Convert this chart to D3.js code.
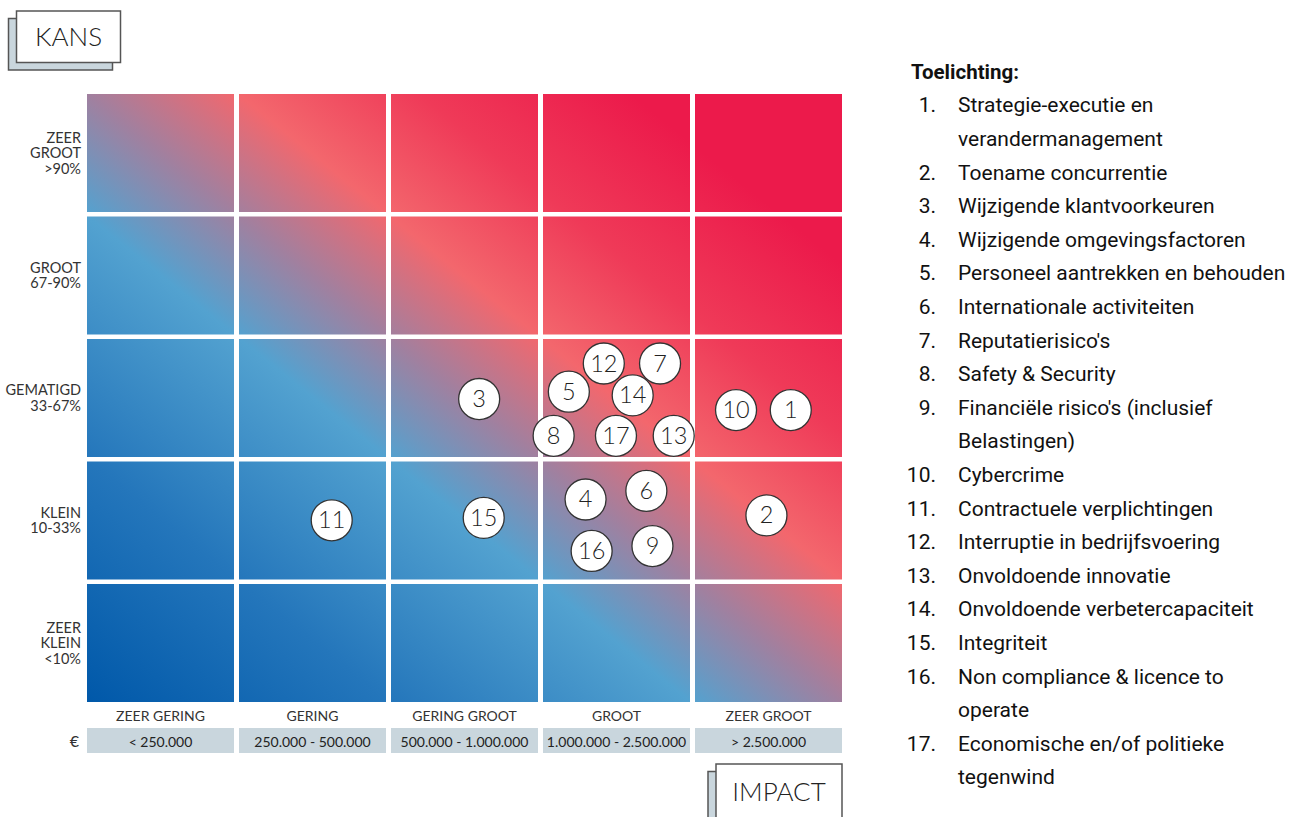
<!DOCTYPE html>
<html>
<head>
<meta charset="utf-8">
<script src="https://cdn.jsdelivr.net/npm/d3@7"></script>
<style>
  html, body { margin: 0; padding: 0; background: #fff; }
  svg { display: block; }
</style>
</head>
<body>
<svg id="chart" width="1296" height="817"></svg>
<script>
// ---------------- DATA ----------------
const impactCategories = ["ZEER GERING", "GERING", "GERING GROOT", "GROOT", "ZEER GROOT"];
const impactRanges = ["< 250.000", "250.000 - 500.000", "500.000 - 1.000.000", "1.000.000 - 2.500.000", "> 2.500.000"];
// bottom (index 0) to top (index 4)
const probabilityCategories = [
  ["ZEER", "KLEIN", "<10%"],
  ["KLEIN", "10-33%"],
  ["GEMATIGD", "33-67%"],
  ["GROOT", "67-90%"],
  ["ZEER", "GROOT", ">90%"]
];
const riskIds =         [1,    2,    3,    4,    5,    6,    7,    8,    9,    10,   11,   12,   13,   14,   15,   16,   17];
// position on impact axis (0..5, column units) and probability axis (0..5, row units)
const riskImpact =      [4.63, 4.47, 2.58, 3.28, 3.17, 3.68, 3.77, 3.07, 3.72, 4.27, 1.61, 3.40, 3.86, 3.59, 2.61, 3.32, 3.48];
const riskProbability = [2.42, 1.56, 2.51, 1.69, 2.57, 1.76, 2.80, 2.21, 1.31, 2.42, 1.52, 2.80, 2.21, 2.54, 1.54, 1.27, 2.21];
const riskNames = [
  ["Strategie-executie en", "verandermanagement"],
  ["Toename concurrentie"],
  ["Wijzigende klantvoorkeuren"],
  ["Wijzigende omgevingsfactoren"],
  ["Personeel aantrekken en behouden"],
  ["Internationale activiteiten"],
  ["Reputatierisico's"],
  ["Safety & Security"],
  ["Financiële risico's (inclusief", "Belastingen)"],
  ["Cybercrime"],
  ["Contractuele verplichtingen"],
  ["Interruptie in bedrijfsvoering"],
  ["Onvoldoende innovatie"],
  ["Onvoldoende verbetercapaciteit"],
  ["Integriteit"],
  ["Non compliance & licence to", "operate"],
  ["Economische en/of politieke", "tegenwind"]
];
const legendTitle = "Toelichting:";
const yAxisTitle = "KANS";
const xAxisTitle = "IMPACT";
const currencySymbol = "€";

// ---------------- LAYOUT ----------------
const svg = d3.select("#chart");
const gridLeft = 87, pitchX = 152, cellW = 147;
const gridTop = 94, pitchY = 122.5, cellH = 118;
const nCols = impactCategories.length, nRows = probabilityCategories.length;

const x = d3.scaleLinear().domain([0, nCols]).range([gridLeft, gridLeft + nCols * pitchX]);
const y = d3.scaleLinear().domain([0, nRows]).range([gridTop + nRows * pitchY, gridTop]);

const axisFont = "Lato, 'Open Sans', sans-serif";
const legendFont = "Roboto, 'Noto Sans', sans-serif";

// ---------------- GRADIENT ----------------
const defs = svg.append("defs");
const grad = defs.append("linearGradient")
  .attr("id", "heat")
  .attr("gradientUnits", "objectBoundingBox")
  .attr("x1", 0).attr("y1", 1).attr("x2", 1).attr("y2", 0);
const stops = [
  [0.00, "#0058a9"],
  [0.20, "#2476bb"],
  [0.40, "#53a2d0"],
  [0.50, "#a1809f"],
  [0.60, "#f3676d"],
  [0.72, "#ef3a58"],
  [0.86, "#ec1a4b"],
  [1.00, "#ec1a4b"]
];
grad.selectAll("stop").data(stops).join("stop")
  .attr("offset", d => d[0])
  .attr("stop-color", d => d[1]);

const cells = [];
for (let r = 0; r < nRows; r++) for (let c = 0; c < nCols; c++) cells.push({ r, c });

const clip = defs.append("clipPath").attr("id", "cellsClip");
clip.selectAll("rect").data(cells).join("rect")
  .attr("x", d => x(d.c))
  .attr("y", d => y(d.r + 1))
  .attr("width", cellW)
  .attr("height", cellH);

const gridRight = x(nCols - 1) + cellW;
const gridBottom = y(0) - (pitchY - cellH);
svg.append("rect")
  .attr("x", gridLeft).attr("y", gridTop)
  .attr("width", gridRight - gridLeft)
  .attr("height", gridBottom - gridTop)
  .attr("fill", "url(#heat)")
  .attr("clip-path", "url(#cellsClip)");

// ---------------- ROW LABELS ----------------
const rowLabels = svg.append("g")
  .attr("font-family", axisFont)
  .attr("font-size", 14.5)
  .attr("fill", "#333")
  .attr("text-anchor", "end");
probabilityCategories.forEach((lines, r) => {
  const cy = y(r + 1) + cellH / 2;
  const lh = 15.5;
  const t = rowLabels.append("text").attr("x", 81);
  lines.forEach((ln, i) => {
    t.append("tspan")
      .attr("x", 81)
      .attr("y", cy + (i - (lines.length - 1) / 2) * lh + 5)
      .text(ln);
  });
});

// ---------------- COLUMN LABELS ----------------
const colG = svg.append("g").attr("font-family", axisFont).attr("fill", "#333");
colG.selectAll("text.cat").data(impactCategories).join("text")
  .attr("class", "cat")
  .attr("x", (d, i) => x(i) + cellW / 2)
  .attr("y", 721)
  .attr("text-anchor", "middle")
  .attr("font-size", 14)
  .text(d => d);

colG.selectAll("rect.range").data(impactRanges).join("rect")
  .attr("class", "range")
  .attr("x", (d, i) => x(i))
  .attr("y", 728)
  .attr("width", cellW)
  .attr("height", 25)
  .attr("fill", "#c9d6dd");

colG.selectAll("text.range").data(impactRanges).join("text")
  .attr("class", "range")
  .attr("x", (d, i) => x(i) + cellW / 2)
  .attr("y", 746.5)
  .attr("text-anchor", "middle")
  .attr("font-size", 14)
  .attr("fill", "#222")
  .text(d => d);

colG.append("text")
  .attr("x", 79).attr("y", 747)
  .attr("text-anchor", "end")
  .attr("font-size", 16)
  .attr("fill", "#333")
  .text(currencySymbol);

// ---------------- TITLE BOXES ----------------
function titleBox(bx, by, w, h, label, clipBottom) {
  const g = svg.append("g");
  g.append("rect")
    .attr("x", bx - 8).attr("y", by + 7.5).attr("width", w).attr("height", h)
    .attr("fill", "#c9d6dd").attr("stroke", "#555").attr("stroke-width", 1.5);
  g.append("rect")
    .attr("x", bx).attr("y", by).attr("width", w).attr("height", h)
    .attr("fill", "#fff").attr("stroke", "#555").attr("stroke-width", 1.5);
  g.append("text")
    .attr("x", bx + w / 2).attr("y", by + (clipBottom ? 37 : h / 2 + 9.5))
    .attr("text-anchor", "middle")
    .attr("font-family", axisFont)
    .attr("font-weight", 300)
    .attr("font-size", 26)
    .attr("fill", "#222")
    .text(label);
}
titleBox(16.5, 11, 104, 51.5, yAxisTitle, false);
titleBox(716, 764, 126, 60, xAxisTitle, true);

// ---------------- RISK MARKERS ----------------
const risks = riskIds.map((id, i) => ({ id, ix: riskImpact[i], py: riskProbability[i] }));
const mk = svg.append("g").selectAll("g").data(risks).join("g")
  .attr("transform", d => `translate(${x(d.ix)},${y(d.py)})`);
mk.append("circle")
  .attr("r", 20.5)
  .attr("fill", "#fff")
  .attr("stroke", "#333")
  .attr("stroke-width", 1.3);
mk.append("text")
  .attr("text-anchor", "middle")
  .attr("y", 8)
  .attr("font-family", axisFont)
  .attr("font-weight", 300)
  .attr("font-size", 23.5)
  .attr("fill", "#222")
  .text(d => d.id);

// ---------------- LEGEND ----------------
const lg = svg.append("g").attr("font-family", legendFont).attr("fill", "#111");
lg.append("text")
  .attr("x", 911).attr("y", 78.5)
  .attr("font-weight", 700)
  .attr("font-size", 20.5)
  .text(legendTitle);

let lineIdx = 0;
const lineStart = 112.3, lineStep = 33.6;
riskNames.forEach((lines, i) => {
  lg.append("text")
    .attr("x", 936)
    .attr("y", lineStart + lineIdx * lineStep)
    .attr("text-anchor", "end")
    .attr("font-size", 21)
    .text(riskIds[i] + ".");
  lines.forEach(ln => {
    lg.append("text")
      .attr("x", 958)
      .attr("y", lineStart + lineIdx * lineStep)
      .attr("font-size", 21)
      .text(ln);
    lineIdx++;
  });
});
</script>
</body>
</html>
